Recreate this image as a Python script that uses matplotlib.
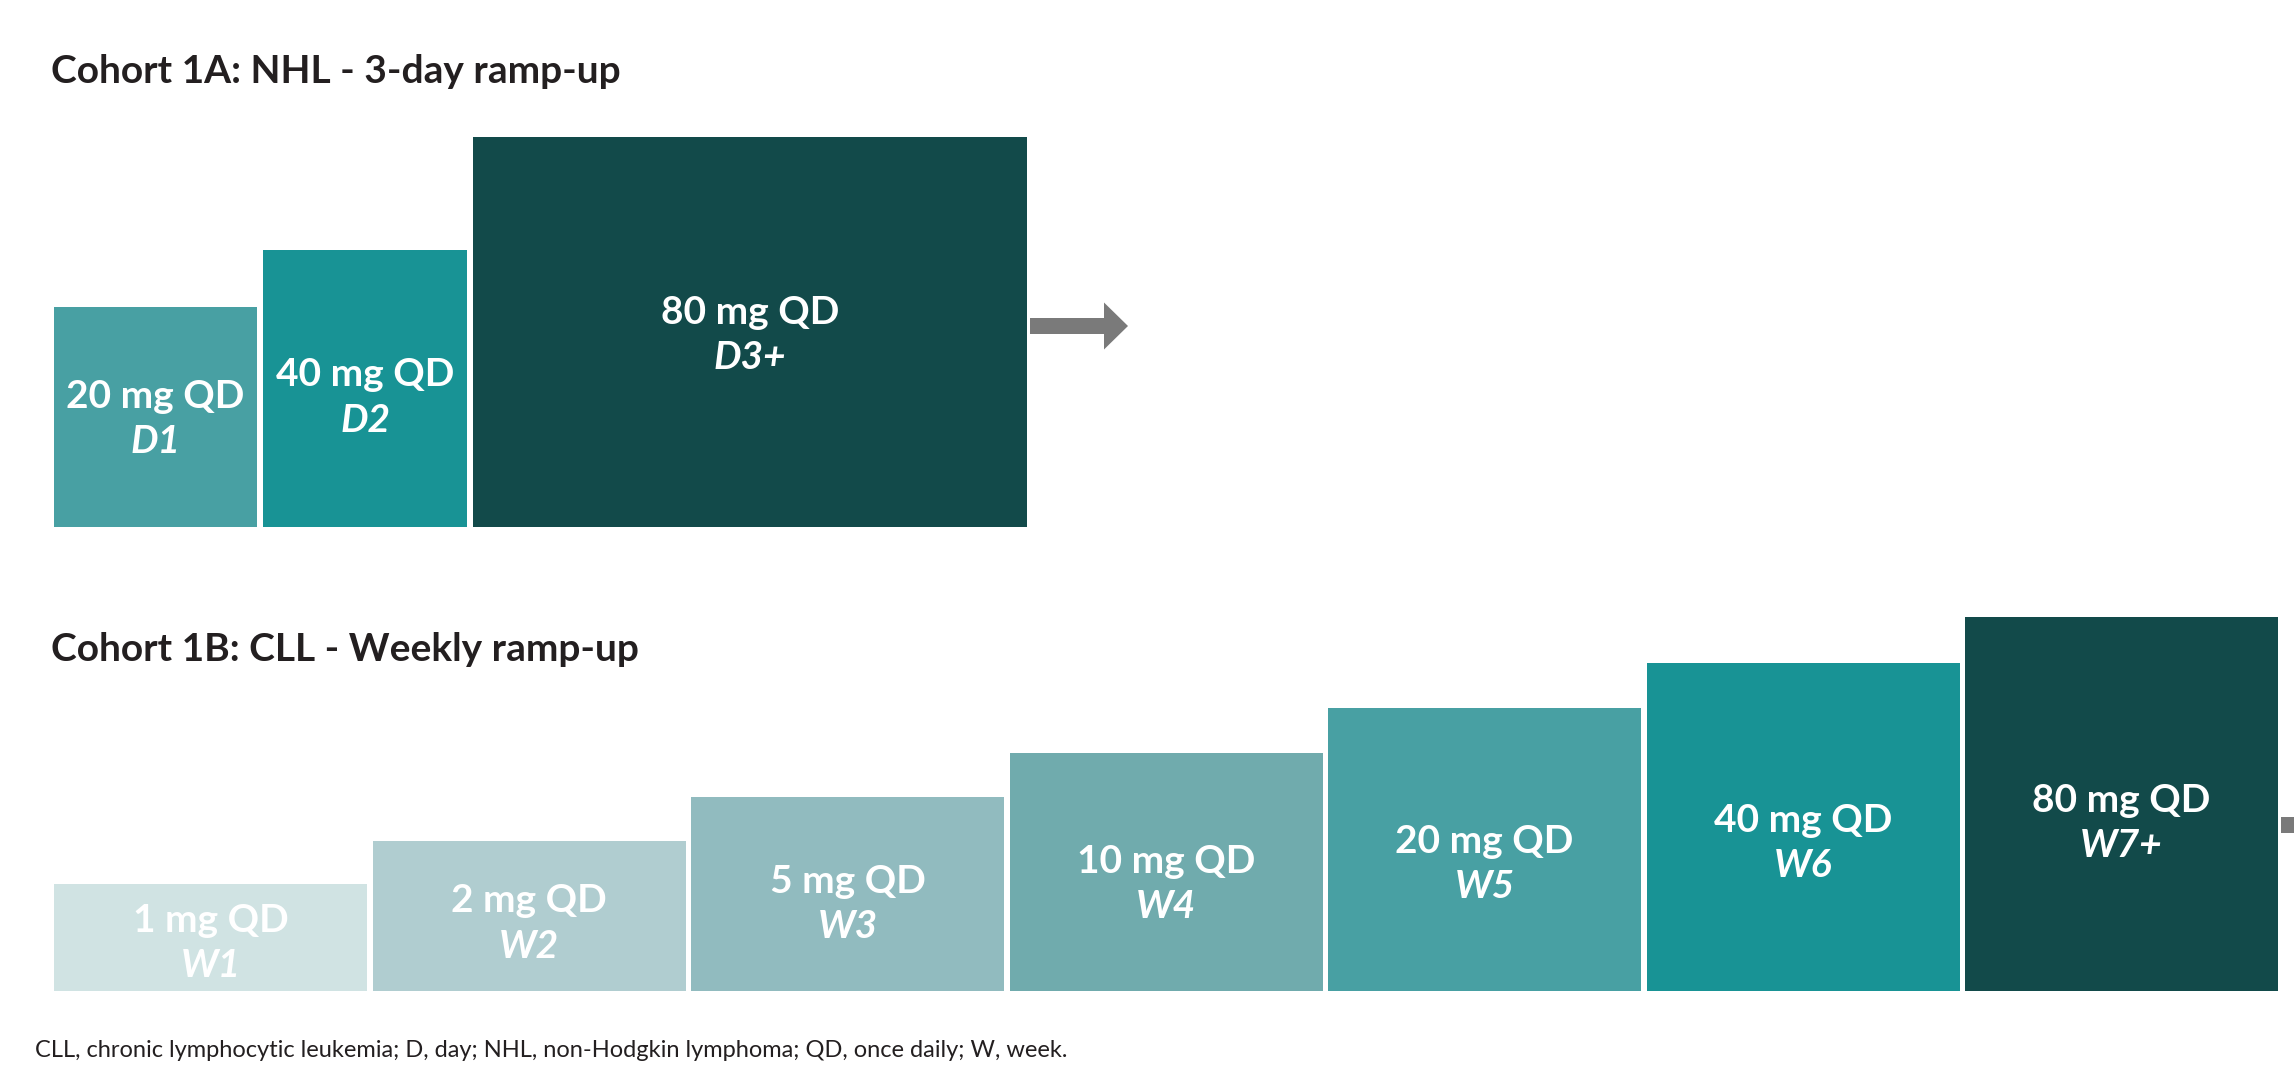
import matplotlib
matplotlib.use("Agg")
import matplotlib.pyplot as plt

W, H = 2294, 1076
FONT = "Lato"

# Cohort 1A: NHL, 3-day ramp-up
nhl_doses = ["20 mg QD", "40 mg QD", "80 mg QD"]
nhl_days = ["D1", "D2", "D3+"]
nhl_heights = [220, 277, 390]
nhl_colors = ["#48a0a3", "#189395", "#124a4a"]

# Cohort 1B: CLL, weekly ramp-up
cll_doses = ["1 mg QD", "2 mg QD", "5 mg QD", "10 mg QD", "20 mg QD", "40 mg QD", "80 mg QD"]
cll_weeks = ["W1", "W2", "W3", "W4", "W5", "W6", "W7+"]
cll_heights = [107, 150, 194, 238, 283, 328, 374]
cll_colors = ["#d0e3e3", "#b0cdd0", "#91bbbf", "#70abad", "#48a0a3", "#189395", "#124a4a"]

footnote = ("CLL, chronic lymphocytic leukemia; D, day; NHL, non-Hodgkin lymphoma; "
            "QD, once daily; W, week.")

fig = plt.figure(figsize=(W / 100, H / 100), dpi=100)
ax = fig.add_axes([0, 0, 1, 1])
ax.set_xlim(0, W)
ax.set_ylim(0, H)
ax.axis("off")


def panel(lefts, widths, base, heights, colors, doses, periods, drops):
    ax.bar(lefts, heights, width=widths, bottom=base, align="edge",
           color=colors, edgecolor="none")
    for x, w, h, d, p, dy in zip(lefts, widths, heights, doses, periods, drops):
        cx = x + w / 2
        cy = base + h / 2 - dy
        ax.text(cx, cy + 22.5, d, ha="center", va="center", color="white",
                fontsize=28, fontweight="bold", family=FONT)
        ax.text(cx, cy - 22.5, p, ha="center", va="center", color="white",
                fontsize=28, fontweight="bold", fontstyle="italic", family=FONT)


# top panel
top_base = H - 527
top_lefts = [54, 263, 473]
top_widths = [203, 204, 554]
ax.text(51, H - 83, "Cohort 1A: NHL - 3-day ramp-up", ha="left", va="baseline",
        fontsize=28, fontweight="bold", color="#231f20", family=FONT)
panel(top_lefts, top_widths, top_base, nhl_heights, nhl_colors,
      nhl_doses, nhl_days, [2, 9, 3])
ax.arrow(1030, H - 326, 98, 0, width=16, head_width=47, head_length=24,
         length_includes_head=True, color="#7a7a7a", lw=0)

# bottom panel
bot_base = H - 991
bot_lefts = [54 + 318.5 * i for i in range(len(cll_doses))]
bot_widths = [313] * len(cll_doses)
ax.text(51, H - 661, "Cohort 1B: CLL - Weekly ramp-up", ha="left", va="baseline",
        fontsize=28, fontweight="bold", color="#231f20", family=FONT)
panel(bot_lefts, bot_widths, bot_base, cll_heights, cll_colors,
      cll_doses, cll_weeks, [0.05 * h for h in cll_heights])
ax.arrow(2281, H - 825, 98, 0, width=16, head_width=47, head_length=24,
         length_includes_head=True, color="#7a7a7a", lw=0)

ax.text(35, H - 1057, footnote, ha="left", va="baseline", fontsize=17,
        color="#231f20", family=FONT)

fig.savefig("out.png", dpi=100)
